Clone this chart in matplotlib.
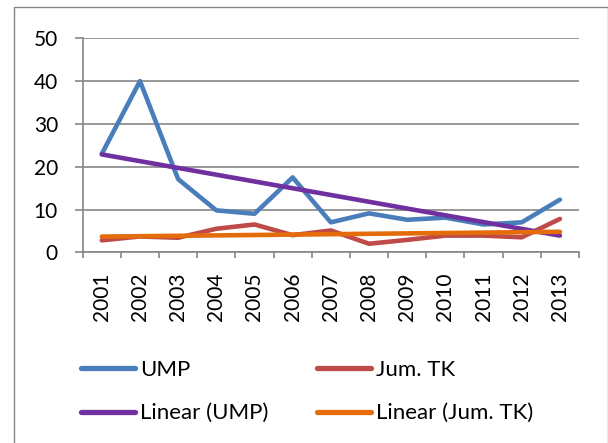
import numpy as np
import matplotlib
matplotlib.use("Agg")
import matplotlib.pyplot as plt
from matplotlib.patches import Rectangle
from matplotlib.lines import Line2D

years = ["2001", "2002", "2003", "2004", "2005", "2006", "2007",
         "2008", "2009", "2010", "2011", "2012", "2013"]
ump = [23.0, 40.0, 17.1, 9.8, 9.0, 17.5, 7.0, 9.1, 7.6, 8.1, 6.5, 7.0, 12.3]
jum_tk = [2.8, 3.7, 3.4, 5.5, 6.5, 4.0, 5.1, 2.0, 2.9, 3.9, 3.9, 3.5, 7.8]
yticks = [0, 10, 20, 30, 40, 50]

plt.rcParams['font.family'] = ['Lato', 'DejaVu Sans']
FS = 15
LFS = 16
GRAY = "#868686"

W, H = 608, 443
fig = plt.figure(figsize=(W / 100, H / 100), dpi=100)

# outer border
fig.patches.append(Rectangle((14 / W, -0.01), (607.5 - 14) / W, (H - 7.3) / H + 0.01,
                             transform=fig.transFigure, fill=False,
                             edgecolor=GRAY, linewidth=1.0))

L, R, T, B = 82.7, 579, 38.3, 252.3
ax = fig.add_axes([L / W, 1 - B / H, (R - L) / W, (B - T) / H])
x = np.arange(len(years))
c_ump = "#4A7EBB"
c_tk = "#BE4B48"
c_lump = "#7030A0"
c_ltk = "#E46C0A"
lw = 3.3

ax.plot(x, ump, color=c_ump, lw=lw, solid_joinstyle="round", solid_capstyle="round", zorder=3)
ax.plot(x, jum_tk, color=c_tk, lw=lw, solid_joinstyle="round", solid_capstyle="round", zorder=3)
p1 = np.polyfit(x, ump, 1)
p2 = np.polyfit(x, jum_tk, 1)
ax.plot(x, np.polyval(p1, x), color=c_lump, lw=lw, zorder=4, solid_capstyle="round")
ax.plot(x, np.polyval(p2, x), color=c_ltk, lw=lw, zorder=4, solid_capstyle="round")

ax.set_xlim(-0.5, len(years) - 0.5)
ax.set_ylim(0, 50)
ax.set_yticks(yticks)
ax.set_yticklabels([str(v) for v in yticks], fontsize=FS)
ax.yaxis.grid(True, color=GRAY, lw=1.2)
ax.set_axisbelow(True)
ax.set_xticks(np.arange(-0.5, len(years), 1.0))
ax.set_xticklabels([])
ax.set_xticks(x, minor=True)
ax.set_xticklabels(years, minor=True, rotation=90, fontsize=FS)
ax.tick_params(axis="x", which="major", length=4.3, color=GRAY, width=1.2)
ax.tick_params(axis="x", which="minor", length=0, pad=14.5)
ax.tick_params(axis="y", length=5.8, color=GRAY, width=1.2, pad=12)
for s in ["top", "right"]:
    ax.spines[s].set_visible(False)
for s in ["left", "bottom"]:
    ax.spines[s].set_color(GRAY)
    ax.spines[s].set_linewidth(1.2)

h_ump = Line2D([], [], color=c_ump, lw=3.8, solid_capstyle="round")
h_tk = Line2D([], [], color=c_tk, lw=3.8, solid_capstyle="round")
h_lump = Line2D([], [], color=c_lump, lw=3.8, solid_capstyle="round")
h_ltk = Line2D([], [], color=c_ltk, lw=3.8, solid_capstyle="round")

common = dict(frameon=False, fontsize=LFS, loc="upper left", borderpad=0,
              borderaxespad=0, handlelength=2.45, handletextpad=0.2,
              labelspacing=1.05)
leg1 = fig.legend([h_ump, h_lump], ["UMP", "Linear (UMP)"],
                  bbox_to_anchor=(81 / W, 1 - 360 / H), **common)
leg2 = fig.legend([h_tk, h_ltk], ["Jum. TK", "Linear (Jum. TK)"],
                  bbox_to_anchor=(317 / W, 1 - 360 / H), **common)

fig.savefig("out.png", dpi=100)
